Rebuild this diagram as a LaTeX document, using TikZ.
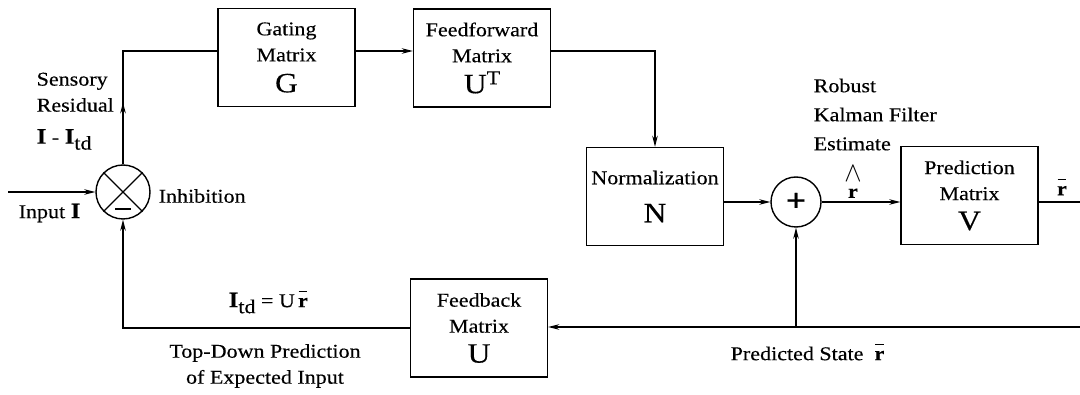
\documentclass[tikz,border=0pt]{standalone}
\usepackage{fontspec}
\setmainfont{Liberation Serif}[FakeStretch=1.13,FakeBold=0.3]
\usetikzlibrary{arrows.meta}
\newcommand{\BigLet}[1]{{\fontsize{28}{28}\selectfont #1}}
\newcommand{\BoldI}{{\fontsize{22}{22}\selectfont\textbf{I}}}
\newcommand{\rbar}{\leavevmode\rlap{\hspace{0.5pt}\raisebox{15pt}{\rule{8.5pt}{1.5pt}}}\textbf{r}}
\begin{document}
\begin{tikzpicture}[x=1pt,y=-1pt,line width=1.4pt,
  font=\fontsize{19.5}{26}\selectfont,
  >={Stealth[length=11pt,width=5.5pt]},
  box/.style={draw,minimum width=137pt,minimum height=98pt,inner sep=0pt,align=center},
  junc/.style={draw,circle,minimum size=50pt,inner sep=0pt},
  lbl/.style={inner sep=0pt,align=left}]
\useasboundingbox (0,0) rectangle (1080,395);
\clip (0,0) rectangle (1080,395);

% blocks
\node[box] (G) at (286.5,57.5) {Gating\\Matrix\\[5pt]\BigLet{G}};
\node[box] (F) at (482,58) {Feedforward\\Matrix\\[5pt]\BigLet{U}\raisebox{9pt}{T}};
\node[box] (N) at (655,196.5) {Normalization\\[12pt]\BigLet{N}};
\node[box] (P) at (969.5,195.5) {Prediction\\Matrix\\[4pt]\BigLet{V}};
\node[box] (B) at (479,328) {Feedback\\Matrix\\[4pt]\BigLet{U}};

% junctions
\node[junc] (S) at (796,202) {\fontsize{32}{32}\selectfont\textbf{+}};
\node[junc,minimum size=54pt] (I) at (123,192) {};
\draw (I.45) -- (I.225);
\draw (I.135) -- (I.315);
\draw ([xshift=-8pt,yshift=-17pt]I.center) -- ([xshift=8pt,yshift=-17pt]I.center);

% connectors
\coordinate (in) at (8,192);
\coordinate (rc) at (1095,202);
\coordinate (rb) at (1095,327);
\draw[->] (in) -- (I.west);
\draw[->] (I.north) -- ++(0,-62);
\draw (I.north) |- ([yshift=6.5pt]G.west);
\draw[->] ([yshift=6.5pt]G.east) -- ([yshift=6.5pt]G.east -| F.west);
\draw[->] ([yshift=7pt]F.east) -| (N.north);
\draw[->] (S -| N.east) -- (S.west);
\draw[->] (S.east) -- (S -| P.west);
\draw (S -| P.east) -- (rc) -- (rb);
\draw[->] (rb) -- (rb -| B.east);
\draw[->] (S |- rb) -- (S.south);
\draw[->] (B.west) -| (I.south);

% labels
\node[lbl,anchor=north west] (sr) at (36,72) {Sensory\\Residual\\[6pt]\BoldI\ - \BoldI\raisebox{-6pt}{td}};
\node[lbl,anchor=west] (inp) at (18,213) {Input \BoldI};
\node[lbl,anchor=west] (inh) at (158,196) {Inhibition};
\node[lbl,anchor=north west,font=\fontsize{19.5}{29}\selectfont] (kf) at (813,78) {Robust\\Kalman Filter\\Estimate};
\node[inner sep=0pt,align=center] (rh) at (853,182) {\scalebox{1.25}[1.35]{$\wedge$}\\[-10pt]\textbf{r}};
\node[inner sep=0pt] (ro) at (1062,187) {\rbar};
\node[lbl,anchor=west] (itd) at (228,302) {\BoldI\raisebox{-6pt}{td} = U\,\rbar};
\node[inner sep=0pt,align=center] (td) at (265,366) {Top-Down Prediction\\of Expected Input};
\node[lbl,anchor=west] (ps) at (730,352) {Predicted State\ \ \rbar};
\end{tikzpicture}
\end{document}
